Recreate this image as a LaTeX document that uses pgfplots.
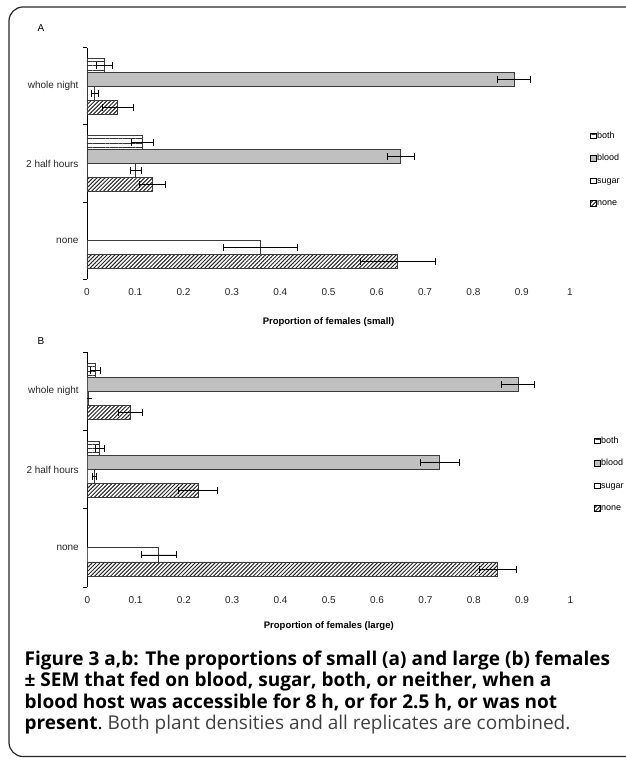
\documentclass[border=0pt]{standalone}
\usepackage{fontspec}
\setmainfont{Liberation Sans}
\newfontfamily\capfont{Open Sans}
\usepackage{pgfplots}
\pgfplotsset{compat=1.18}
\usetikzlibrary{patterns.meta}

\definecolor{bordergray}{HTML}{3A3A3A}
\definecolor{bloodgray}{HTML}{C0C0C0}

\pgfplotsset{
  bothbar/.style={draw=bordergray, line width=0.8pt, pattern={Lines[angle=0,distance=4.3pt,line width=0.7pt]}, pattern color=black!80},
  bloodbar/.style={draw=bordergray, line width=0.8pt, fill=bloodgray},
  sugarbar/.style={draw=bordergray, line width=0.8pt, fill=white},
  nonebar/.style={draw=bordergray, line width=0.8pt, pattern={Lines[angle=45,distance=2.8pt,line width=1pt]}, pattern color=black!85},
  panel/.style={
    scale only axis, width=483pt,
    xmin=0, xmax=1, ymin=-0.5, ymax=2.5,
    xbar, bar width=0.18,
    axis lines*=left,
    x axis line style={draw=none},
    y axis line style={black, line width=0.8pt},
    tick align=outside,
    major tick length=0pt,
    minor tick length=4pt,
    minor tick style={black, line width=0.8pt},
    xtick={0,0.1,...,1},
    xticklabels={0,0.1,0.2,0.3,0.4,0.5,0.6,0.7,0.8,0.9,1},
    ytick={0,1,2},
    yticklabels={none,2 half hours,whole night},
    minor ytick={-0.5,0.5,1.5,2.5},
    ticklabel style={font=\fontsize{10}{12}\selectfont, text=black!85},
    xticklabel style={yshift=-6pt},
    yticklabel style={xshift=-5pt},
    /pgf/number format/assume math mode=true,
    xlabel style={font=\bfseries\fontsize{9.5}{11}\selectfont, anchor=center},
    error bars/error bar style={black, line width=0.7pt},
    error bars/error mark=|,
    error bars/error mark options={black, mark size=3.5pt, line width=0.7pt},
    legend image code/.code={\draw[#1, draw=black, line width=0.7pt] (0pt,-2.8pt) rectangle (5.6pt,2.8pt);},
    legend style={draw=none, fill=none, anchor=west,
      font=\fontsize{9}{10}\selectfont, row sep=12.5pt,
      nodes={inner sep=0.6pt, text height=6.8pt, text depth=2pt}},
    legend cell align=left,
  }
}

\begin{document}
\begin{tikzpicture}
\useasboundingbox (0,0) rectangle (625pt,758pt);
\draw[line width=1.2pt, black!85, rounded corners=14pt] (650pt,751pt) -- (9pt,751pt) -- (9pt,1.5pt) -- (650pt,1.5pt);

\node[font=\fontsize{10}{12}\selectfont] at (41pt,730pt) {A};
\node[font=\fontsize{10}{12}\selectfont] at (41pt,417pt) {B};

% Panel A
\begin{axis}[panel, at={(87pt,478.7pt)}, anchor=south west, height=231.6pt,
  xlabel={Proportion of females (small)},
  xlabel style={at={(axis description cs:0.5,-0.183)}},
  legend style={at={(1.035,0.473)}},
  legend entries={both,blood,sugar,none}]
\addplot[bothbar, bar shift=0.27, error bars/.cd, x dir=both, x explicit]
  coordinates {(0.036,2) +- (0.017,0) (0.114,1) +- (0.023,0)};
\addplot[bloodbar, bar shift=0.09, error bars/.cd, x dir=both, x explicit]
  coordinates {(0.884,2) +- (0.034,0) (0.649,1) +- (0.028,0)};
\addplot[sugarbar, bar shift=-0.09, error bars/.cd, x dir=both, x explicit]
  coordinates {(0.016,2) +- (0.008,0) (0.101,1) +- (0.012,0) (0.359,0) +- (0.077,0)};
\addplot[nonebar, bar shift=-0.27, error bars/.cd, x dir=both, x explicit]
  coordinates {(0.063,2) +- (0.032,0) (0.135,1) +- (0.027,0) (0.643,0) +- (0.078,0)};
\end{axis}

% Panel B
\begin{axis}[panel, at={(87.3pt,171pt)}, anchor=south west, height=234.7pt,
  xlabel={Proportion of females (large)},
  xlabel style={at={(axis description cs:0.5,-0.166)}},
  legend style={at={(1.043,0.479)}},
  legend entries={both,blood,sugar,none}]
\addplot[bothbar, bar shift=0.27, error bars/.cd, x dir=both, x explicit]
  coordinates {(0.017,2) +- (0.011,0) (0.026,1) +- (0.009,0)};
\addplot[bloodbar, bar shift=0.09, error bars/.cd, x dir=both, x explicit]
  coordinates {(0.892,2) +- (0.034,0) (0.730,1) +- (0.041,0)};
\addplot[sugarbar, bar shift=-0.09, error bars/.cd, x dir=both, x explicit]
  coordinates {(0.002,2) +- (0,0) (0.015,1) +- (0.004,0) (0.148,0) +- (0.037,0)};
\addplot[nonebar, bar shift=-0.27, error bars/.cd, x dir=both, x explicit]
  coordinates {(0.089,2) +- (0.024,0) (0.229,1) +- (0.040,0) (0.850,0) +- (0.039,0)};
\end{axis}

\node[anchor=north west, inner sep=0pt, align=left,
  font=\capfont\fontsize{19}{21.5}\selectfont] at (24.5pt,107.5pt)
  {\textbf{Figure 3 a,b: The proportions of small (a) and large (b) females}\\
   \textbf{± SEM that fed on blood, sugar, both, or neither, when a}\\
   \textbf{blood host was accessible for 8 h, or for 2.5 h, or was not}\\
   \textbf{present}.\ \textcolor{black!75}{Both plant densities and all replicates are combined.}};
\end{tikzpicture}
\end{document}
